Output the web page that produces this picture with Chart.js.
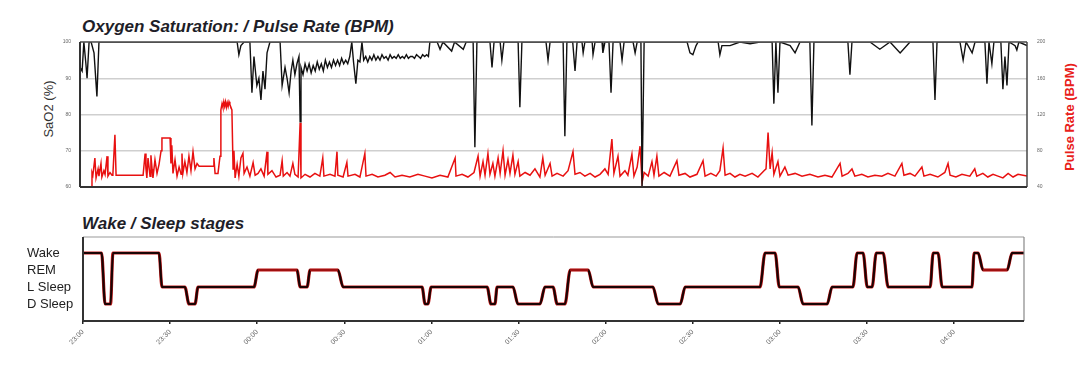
<!DOCTYPE html>
<html><head><meta charset="utf-8">
<script src="https://cdn.jsdelivr.net/npm/chart.js@4.4.1/dist/chart.umd.min.js"></script>
<style>
html,body{margin:0;padding:0;background:#fff;width:1084px;height:366px;overflow:hidden;font-family:"Liberation Sans",Arial,sans-serif}
#c1{position:absolute;left:0;top:0}
#c2{position:absolute;left:0;top:200px}
.t{position:absolute;font-weight:bold;font-style:italic;font-size:17px;line-height:1;color:#1e1e28;white-space:nowrap}
.r{position:absolute;text-align:center;white-space:nowrap;transform:rotate(-90deg)}
</style></head><body>
<div class="t" style="left:82px;top:17.5px">Oxygen Saturation: / Pulse Rate (BPM)</div>
<div class="t" style="left:82px;top:215px">Wake / Sleep stages</div>
<div class="r" style="left:-11.5px;top:100.5px;width:120px;height:16px;line-height:16px;font-size:13px;color:#333">SaO2 (%)</div>
<div class="r" style="left:1010px;top:108.5px;width:120px;height:16px;line-height:16px;font-size:13px;font-weight:bold;color:#e8201a">Pulse Rate (BPM)</div>
<canvas id="c1" width="1084" height="200"></canvas>
<canvas id="c2" width="1084" height="166"></canvas>
<script>
// ---- time axis (minutes after 23:00) ----
const timeTickMinutes = [0,30,60,90,120,150,180,210,240,270,300];
const timeTickLabels = ['23:00','23:30','00:00','00:30','01:00','01:30','02:00','02:30','03:00','03:30','04:00'];

// ---- SaO2 (%) ----
const sao2Minutes = [-1.0,-0.3,0.3,1.0,1.4,2.1,2.8,3.8,4.8,5.5,53.1,53.7,54.4,55.5,57.5,58.2,58.9,59.9,60.6,61.3,62.0,62.7,63.4,64.4,67.9,68.6,69.6,70.3,71.0,71.7,72.3,73.0,73.7,74.4,74.8,
75.1,75.8,76.5,77.2,77.9,78.6,79.3,80.0,80.7,81.4,82.1,82.8,83.5,84.2,84.9,85.6,86.3,87.0,87.7,88.4,89.1,89.8,90.5,91.2,91.9,92.6,93.2,94.0,94.7,95.4,96.1,96.7,97.4,98.1,98.8,99.5,100.2,100.9,101.6,102.3,103.0,103.7,104.4,105.1,105.8,106.5,107.2,107.9,108.6,109.3,110.0,110.7,111.4,112.1,112.8,113.5,114.2,114.9,115.6,116.3,117.0,117.7,118.4,119.0,119.5,
122,123,124,127,128,131,132,134.4,135.0,135.7,140.2,140.9,141.6,143.7,144.3,145.0,149.9,150.5,151.2,159.5,160.2,160.9,165.4,166.0,166.7,168.7,169.5,170.2,171.9,172.3,172.9,175.4,175.7,176.4,178.8,179.1,179.8,181.2,181.9,182.6,185.0,185.7,186.4,189.5,190.2,190.9,192.2,192.6,192.9,193.3,208.1,209.1,210.1,211.2,211.9,218.8,219.4,220.1,222.9,226.3,229.8,233.2,237.4,238.0,238.7,239.4,240.1,243.6,245.3,247.0,250.4,251.1,251.8,257.3,263.5,264.2,264.9,271.1,274.5,278.0,281.5,284.9,292.8,293.5,294.2,302.1,303.2,304.2,306.3,307.3,310.7,311.4,312.1,313.1,313.8,316.2,316.9,317.6,318.3,319.0,321.1,321.7,322.4,325.2];
const sao2Values = [93,92,100,94,90,100,100,97,85,100,100,96.5,99,100,100,86,96,88,90,84,92,87,97,100,100,88,93,90,86,92,95,91,94,96,78,
93,91,94,92,94,91.5,93.5,92,94.5,92.5,94,92,95,93,94.5,93,95,93.5,95,93.5,95.5,94,95,94,96,100,94.5,88.5,95,94.5,100,95,96,94.5,96,95,96.5,95,96,95,96.5,95.5,96,95,96.5,95.5,96,95.5,96.5,95.5,96,95.5,96.5,95.5,96,96,95.5,96.5,96,95.5,96.5,96,96.5,96,100,
100,98,100,97.5,100,98,100,100,71,100,100,93,100,100,95,100,100,82,100,100,95,100,100,74,100,100,92,100,100,97,100,100,96.5,100,100,97,100,100,86,100,100,95,100,100,97,100,100,60,60,100,100,97,96.5,99,100,100,96.5,99,99,100,99.5,100,100,83,100,86,100,99,97,100,100,77,100,100,100,91,100,100,98,100,97,100,100,84,100,100,95,100,97,100,100,88.5,100,94,100,100,87,96,88,100,99,97.8,100,99];

// ---- Pulse rate (BPM) ----
const pulseMinutes = [-1.0,2.8,3.1,3.4,4.1,4.5,5.2,5.5,6.2,6.5,7.2,7.6,8.3,8.6,9.3,10.0,10.3,11.0,11.4,20.7,21.4,21.7,22.0,22.4,23.1,23.4,23.8,24.1,24.8,25.5,26.2,26.9,27.2,30.0,30.3,30.6,31.0,31.7,32.4,33.1,33.8,34.1,34.4,35.1,35.8,36.5,37.2,37.9,38.6,39.3,40.0,44.8,45.1,45.5,46.5,47.2,47.5,47.9,48.2,48.5,48.8,49.1,49.4,49.7,50.0,50.3,50.6,51.3,51.7,52.0,52.4,53.1,53.7,54.4,55.1,55.5,56.5,57.5,58.6,59.3,60.3,61.3,62.4,63.4,63.7,65.1,66.5,67.9,68.6,69.0,70.3,71.3,72.3,73.0,74.1,74.8,75.1,76.5,78.2,79.9,81.6,82.6,83.0,85.1,86.8,87.5,87.8,89.6,90.9,91.3,93.7,95.4,97.1,97.5,99.6,101.6,104.0,105.8,107.5,109.9,112.6,115.4,117.8,120.2,123.0,125.7,128.2,128.5,130.6,132.6,134.7,136.1,136.8,137.8,138.5,139.5,140.2,141.2,141.9,143.0,143.7,144.7,145.4,146.4,147.1,148.1,148.8,149.9,150.5,152.3,154.0,155.7,157.4,158.4,159.2,160.9,161.6,163.3,165.4,167.1,168.8,169.5,171.2,172.9,174.7,176.4,178.1,179.8,180.9,182.2,182.9,184.3,185.0,186.7,187.7,189.1,189.8,190.9,191.9,192.6,193.3,194.7,196.0,196.7,197.7,198.4,200.2,202.2,204.6,205.3,207.4,209.1,211.5,213.6,214.3,216.3,218.1,219.4,220.5,221.2,222.9,224.6,226.3,228.1,230.5,232.5,234.6,235.3,236.0,236.7,237.4,238.0,239.4,240.1,241.8,242.9,245.3,247.7,250.4,253.2,255.6,258.0,260.8,261.5,263.5,264.9,265.9,268.3,270.4,272.8,275.2,277.3,279.7,282.1,282.8,284.9,286.6,289.0,289.7,291.8,294.5,296.9,298.0,298.7,300.7,302.8,305.5,307.2,307.9,310.0,311.7,313.5,315.2,316.9,318.7,320.4,322.1,325.2];
const pulseValues = [40,40,56,53,72,50,60,52,66,51,58,54,74,52,56,53,54,97.5,53,53,77,60,50,72,52,75,60,50,70,55,65,80,94,94,66,86,55,70,52,62,54,77,55,68,56,74,58,79,60,66,63,63,72,55,55,74,125,132,128,134,129,134,128,133,129,134,131,125,60,80,50,65,52,72,77,55,62,52,67,53,55,60,52,79,54,58,51,53,69,52,56,52,66,54,51,111,50,54,51,55,52,72,52,54,52,79,53,51,67,52,54,51,77,52,54,51,53,56,51,53,51,54,52,50,53,51,72,52,54,51,56,74,52,68,53,77,54,66,52,72,55,80,53,70,55,75,54,68,52,56,53,60,51,72,53,66,52,55,52,58,79,54,56,52,55,51,54,60,54,93,55,74,52,58,53,76,52,62,85,45,56,52,68,53,74,52,56,52,69,53,55,51,54,69,52,55,52,58,83,53,55,51,54,52,55,51,58,60,100,60,78,54,68,52,62,53,55,52,54,51,53,51,66,52,55,60,52,54,51,53,52,55,52,66,53,55,52,62,52,54,51,56,66,53,51,54,52,60,52,55,51,54,52,50,55,51,54,52];

// ---- Sleep stages ----
const stageNames = {4:'Wake',3:'REM',2:'L Sleep',1:'D Sleep'};
const stageMinutes = [0,6.4,7.6,9.5,10.3,26.2,27.2,35.1,36.5,38.6,39.6,58.9,60.3,73.7,74.8,77.2,78.2,87.8,89.6,116.8,117.8,118.8,119.9,139.2,140.5,141.9,142.6,148.1,149.8,157.4,159.1,161.9,163.3,166.0,167.8,174.0,175.7,196.3,198.1,205.7,207.4,233.2,234.9,238.4,239.8,246.3,248.0,256.3,258.0,265.2,266.6,268.7,270.1,271.8,273.2,275.6,277.3,291.8,292.8,294.5,295.9,306.2,306.9,308.3,310.0,318.3,320.0,324.1];
const stageValues = [4,4,1,1,4,4,2,2,1,1,2,2,3,3,2,2,3,3,2,2,1,1,2,2,1,1,2,2,1,1,2,2,1,1,3,3,2,2,1,1,2,2,4,4,2,2,1,1,2,2,4,4,2,2,4,4,2,2,4,4,2,2,4,4,3,3,4,4];

const pts = (xs, ys) => xs.map((x, i) => ({x, y: ys[i]}));

function framePlugin(id, sides) {
  return { id, afterDraw(chart) {
    const {ctx, chartArea: a} = chart;
    ctx.save();
    const line = (x1,y1,x2,y2,s) => { ctx.strokeStyle = s.c; ctx.lineWidth = s.w; ctx.beginPath(); ctx.moveTo(x1,y1); ctx.lineTo(x2,y2); ctx.stroke(); };
    line(a.left, a.top, a.right, a.top, sides.top);
    line(a.right, a.top, a.right, a.bottom, sides.right);
    line(a.left, a.top, a.left, a.bottom, sides.left);
    line(a.left, a.bottom, a.right, a.bottom, sides.bottom);
    ctx.restore();
  }};
}

new Chart(document.getElementById('c1'), {
  type: 'line',
  data: { datasets: [
    { label: 'SaO2', data: pts(sao2Minutes, sao2Values), yAxisID: 'y', borderColor: '#111', borderWidth: 1.4, pointRadius: 0, tension: 0 },
    { label: 'Pulse', data: pts(pulseMinutes, pulseValues), yAxisID: 'y2', borderColor: '#e81010', borderWidth: 1.5, pointRadius: 0, tension: 0 }
  ]},
  options: {
    responsive: false, animation: false, events: [],
    plugins: { legend: { display: false }, tooltip: { enabled: false } },
    layout: { padding: { left: 0, right: 0, top: 42, bottom: 8 } },
    scales: {
      x: { type: 'linear', min: -1.03, max: 325.2, afterFit: s => { s.height = 0; },
           ticks: { display: false }, grid: { display: false }, border: { display: false } },
      y: { position: 'left', min: 60, max: 100, afterFit: s => { s.width = 80; },
           ticks: { stepSize: 10, font: { size: 5 }, color: '#666', padding: 9 },
           grid: { color: '#cfcfcf', drawTicks: false, lineWidth: 1.5 }, border: { display: false } },
      y2: { position: 'right', min: 40, max: 200, afterFit: s => { s.width = 57; },
           ticks: { stepSize: 40, font: { size: 5 }, color: '#666', padding: 10 },
           grid: { display: false, drawTicks: false }, border: { display: false } }
    }
  },
  plugins: [framePlugin('frame1', { top: {c:'#555', w:1.5}, right: {c:'#444', w:1.5}, left: {c:'#333', w:2}, bottom: {c:'#333', w:2} })]
});

new Chart(document.getElementById('c2'), {
  type: 'line',
  data: { datasets: [
    { label: 'Stage', data: pts(stageMinutes, stageValues), borderColor: '#1a0404', borderWidth: 2.2, pointRadius: 0,
      cubicInterpolationMode: 'monotone',
      segment: { borderColor: c => (c.p0.parsed.y === 3 && c.p1.parsed.y === 3) ? '#a01010' : undefined } },
    { label: 'StageHalo', data: pts(stageMinutes, stageValues), borderColor: '#c01818', borderWidth: 3.2, pointRadius: 0,
      cubicInterpolationMode: 'monotone' }
  ]},
  options: {
    responsive: false, animation: false, events: [],
    plugins: { legend: { display: false }, tooltip: { enabled: false } },
    layout: { padding: { left: 27, right: 60, top: 37, bottom: 5 } },
    scales: {
      x: { type: 'linear', min: 0, max: 324.1,
           afterBuildTicks: s => { s.ticks = timeTickMinutes.map(v => ({ value: v })); },
           afterFit: s => { s.height = 40; },
           ticks: { minRotation: 45, maxRotation: 45, autoSkip: false, font: { size: 7 }, color: '#666', padding: 4,
                    callback: (v, i) => timeTickLabels[i] },
           grid: { drawOnChartArea: false, drawTicks: true, tickLength: 3, color: '#222', lineWidth: 1.5 },
           border: { display: false } },
      y: { min: 0, max: 4.94,
           afterBuildTicks: s => { s.ticks = [1,2,3,4].map(v => ({ value: v })); },
           afterFit: s => { s.width = 56; },
           ticks: { crossAlign: 'far', font: { size: 13 }, color: '#222', callback: v => stageNames[v] },
           grid: { display: false }, border: { display: false } }
    }
  },
  plugins: [framePlugin('frame2', { top: {c:'#999', w:1}, right: {c:'#888', w:1.2}, left: {c:'#333', w:2}, bottom: {c:'#333', w:2} })]
});
</script>
</body></html>
